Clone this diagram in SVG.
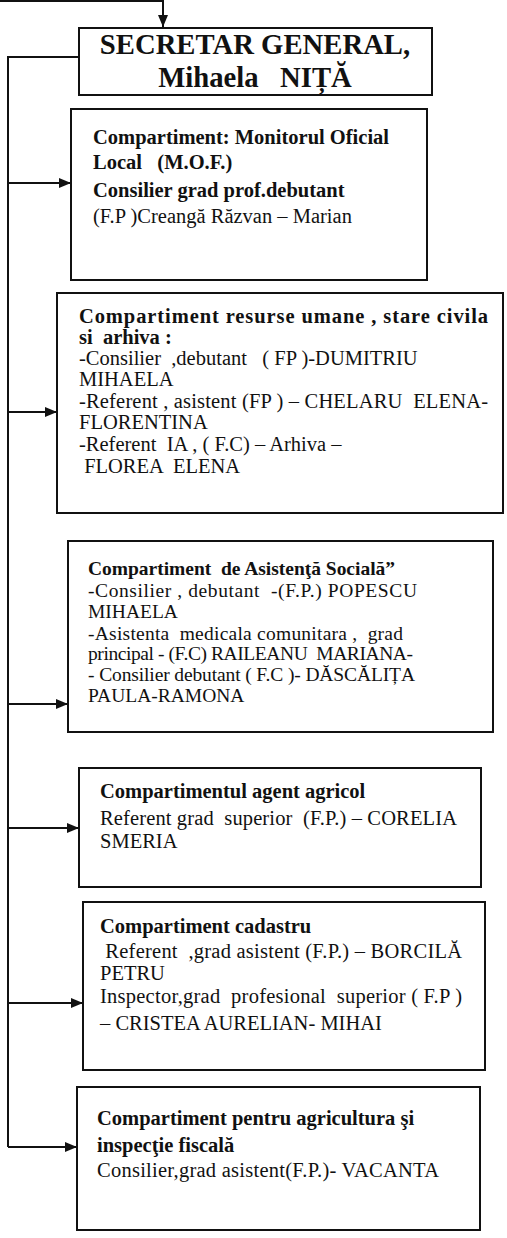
<svg xmlns="http://www.w3.org/2000/svg" width="507" height="1238" viewBox="0 0 507 1238">
<style>
text{font-family:"Liberation Serif","Times New Roman",serif;fill:#111;white-space:pre}
.b{font-weight:bold}
.t{font-size:28.7px;font-weight:bold}
.f{font-size:20.5px}
.s{font-size:19.5px}
.box{fill:#fff;stroke:#111;stroke-width:2}
.ln{fill:none;stroke:#111;stroke-width:2}
</style>
<defs>
<marker id="ah" viewBox="0 0 12 10" refX="12" refY="5" markerWidth="12" markerHeight="10" markerUnits="userSpaceOnUse" orient="auto">
<path d="M0,0 L12,5 L0,10 Z" fill="#111"/>
</marker>
</defs>
<rect width="507" height="1238" fill="#fff"/>
<g id="connectors">
<path class="ln" d="M0,1 H163 V27" marker-end="url(#ah)"/>
<path class="ln" d="M79,57 H8 V1147"/>
<path class="ln" d="M8,183 H71" marker-end="url(#ah)"/>
<path class="ln" d="M8,412 H57" marker-end="url(#ah)"/>
<path class="ln" d="M8,704 H68" marker-end="url(#ah)"/>
<path class="ln" d="M8,828 H79" marker-end="url(#ah)"/>
<path class="ln" d="M8,1003 H83" marker-end="url(#ah)"/>
<path class="ln" d="M8,1147 H77" marker-end="url(#ah)"/>
</g>
<g id="secretar">
<rect class="box" x="79" y="28" width="353" height="67"/>
<text class="t" x="255" y="54" text-anchor="middle">SECRETAR GENERAL,</text>
<text class="t" x="255" y="87" text-anchor="middle">Mihaela   NIȚĂ</text>
</g>
<g id="mof">
<rect class="box" x="71" y="109" width="356" height="171"/>
<text class="f b" x="93" y="144">Compartiment: Monitorul Oficial</text>
<text class="f b" x="93" y="169">Local   (M.O.F.)</text>
<text class="f b" x="93" y="197">Consilier grad prof.debutant</text>
<text class="f" x="93" y="223">(F.P )Creangă Răzvan – Marian</text>
</g>
<g id="resurse">
<rect class="box" x="57" y="293" width="446" height="220"/>
<text class="f b" x="79" y="323" textLength="409" lengthAdjust="spacing">Compartiment resurse umane , stare civila</text>
<text class="f b" x="79" y="344">si  arhiva :</text>
<text class="f" x="79" y="365">-Consilier  ,debutant   ( FP )-DUMITRIU</text>
<text class="f" x="79" y="386">MIHAELA</text>
<text class="f" x="79" y="408" textLength="409" lengthAdjust="spacing">-Referent , asistent (FP ) – CHELARU  ELENA-</text>
<text class="f" x="79" y="429">FLORENTINA</text>
<text class="f" x="79" y="451">-Referent  IA , ( F.C) – Arhiva –</text>
<text class="f" x="79" y="473"> FLOREA  ELENA</text>
</g>
<g id="asistenta">
<rect class="box" x="68" y="541" width="425" height="191"/>
<text class="s b" x="88" y="575" textLength="307" lengthAdjust="spacing">Compartiment  de Asistenţă Socială”</text>
<text class="s" x="88" y="597" textLength="329" lengthAdjust="spacing">-Consilier , debutant  -(F.P.) POPESCU</text>
<text class="s" x="88" y="618">MIHAELA</text>
<text class="s" x="88" y="640" textLength="315" lengthAdjust="spacing">-Asistenta  medicala comunitara ,  grad</text>
<text class="s" x="88" y="660" textLength="325" lengthAdjust="spacing">principal - (F.C) RAILEANU  MARIANA-</text>
<text class="s" x="88" y="681" textLength="327" lengthAdjust="spacing">- Consilier debutant ( F.C )- DĂSCĂLIȚA</text>
<text class="s" x="88" y="702">PAULA-RAMONA</text>
</g>
<g id="agent">
<rect class="box" x="79" y="768" width="402" height="119"/>
<text class="f b" x="100" y="798">Compartimentul agent agricol</text>
<text class="f" x="100" y="825" textLength="357" lengthAdjust="spacing">Referent grad  superior  (F.P.) – CORELIA</text>
<text class="f" x="100" y="848">SMERIA</text>
</g>
<g id="cadastru">
<rect class="box" x="83" y="902" width="402" height="168"/>
<text class="f b" x="100" y="933">Compartiment cadastru</text>
<text class="f" x="100" y="958" textLength="362" lengthAdjust="spacing"> Referent  ,grad asistent (F.P.) – BORCILĂ</text>
<text class="f" x="100" y="980">PETRU</text>
<text class="f" x="100" y="1003" textLength="362" lengthAdjust="spacing">Inspector,grad  profesional  superior ( F.P )</text>
<text class="f" x="100" y="1030">– CRISTEA AURELIAN- MIHAI</text>
</g>
<g id="agricultura">
<rect class="box" x="77" y="1087" width="403" height="143"/>
<text class="f b" x="97" y="1125">Compartiment pentru agricultura şi</text>
<text class="f b" x="97" y="1152">inspecţie fiscală</text>
<text class="f" x="97" y="1177" textLength="342" lengthAdjust="spacing">Consilier,grad asistent(F.P.)- VACANTA</text>
</g>
</svg>
